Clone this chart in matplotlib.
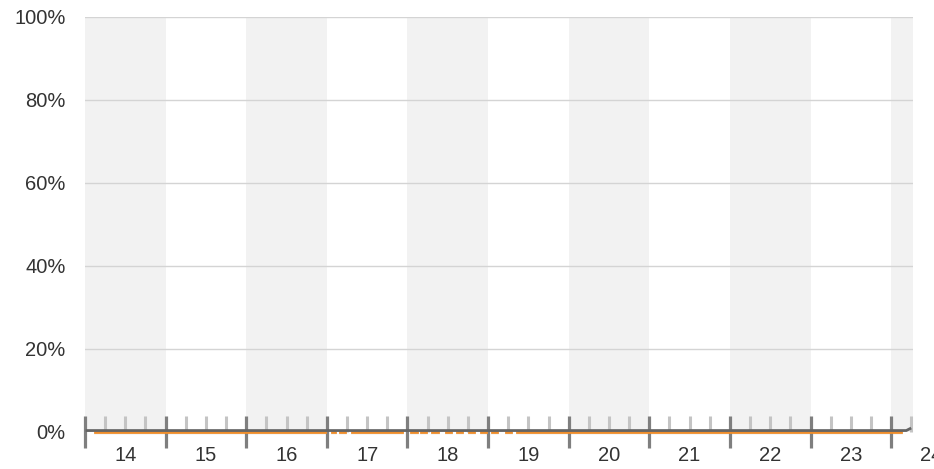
import numpy as np
import matplotlib
matplotlib.use("Agg")
import matplotlib.pyplot as plt
import matplotlib.patheffects as pe
from matplotlib.transforms import blended_transform_factory

# hours since day 14 00:00
day_labels = ["14", "15", "16", "17", "18", "19", "20", "21", "22", "23", "24"]
y_ticks = [0, 20, 40, 60, 80, 100]

gray_hours = [0.6, 24, 48, 72, 96, 120, 144, 168, 192, 216, 244.5, 245.6]
gray_values = [0.35, 0.35, 0.35, 0.35, 0.35, 0.35, 0.35, 0.35, 0.35, 0.35, 0.35, 0.8]

# orange series: continuous segments (start, end) with gaps between them
orange_segments = [
    (3.0, 71.6), (73.4, 74.5), (76.0, 77.5), (79.6, 94.5), (97.1, 98.9),
    (100.1, 101.6), (103.4, 105.1), (107.5, 109.0), (110.8, 112.3),
    (114.4, 115.8), (117.9, 119.4), (121.2, 122.7), (125.4, 126.8),
    (128.6, 243.0),
]
orange_level = 0.0

ox, oy = [], []
for s, e in orange_segments:
    ox += [s, e, np.nan]
    oy += [orange_level, orange_level, np.nan]

plt.rcParams["font.family"] = ["Liberation Sans", "DejaVu Sans"]

fig = plt.figure(figsize=(9.34, 4.69), dpi=100)
ax = fig.add_axes([0.0910, 0.0789, 0.8865, 0.8849])
ax.set_xlim(0, 246.5)
ax.set_ylim(0, 100)

# alternating day bands
for i in range(0, len(day_labels), 2):
    ax.axvspan(i * 24, (i + 1) * 24, color="#f2f2f2", zorder=0, lw=0)

for v in y_ticks[1:]:
    ax.axhline(v, color="#d4d4d4", lw=1, zorder=1)

ax.plot(ox, oy, color="#ef8d2a", lw=2.0, zorder=3, clip_on=False,
        path_effects=[pe.SimpleLineShadow(offset=(0, -1.0), alpha=0.08,
                                          shadow_color="#888888"),
                      pe.Normal()])
ax.plot(gray_hours, gray_values, color="#646464", lw=2.0, zorder=4,
        clip_on=False)

for sp in ax.spines.values():
    sp.set_visible(False)

ax.set_xticks([i * 24 for i in range(len(day_labels))])
ax.set_xticklabels([])
minor = [h for h in np.arange(6, 247, 6) if h % 24 != 0]
ax.set_xticks(minor, minor=True)
ax.tick_params(axis="x", which="major", direction="inout", length=23,
               width=2.3, color="#7f7f7f")
ax.tick_params(axis="x", which="minor", direction="in", length=11.5,
               width=2.2, color="#c4c4c4")
ax.set_axisbelow(False)

trans = blended_transform_factory(ax.transData, ax.transAxes)
for i, lab in enumerate(day_labels):
    ax.text(i * 24 + 12, -0.034, lab, transform=trans, ha="center",
            va="top", fontsize=14.5, color="#333333", clip_on=False)

ax.set_yticks(y_ticks)
ax.set_yticklabels([f"{v}%" for v in y_ticks], fontsize=14.5, color="#333333")
ax.tick_params(axis="y", length=0, pad=14)

fig.savefig("out.png", dpi=100)
